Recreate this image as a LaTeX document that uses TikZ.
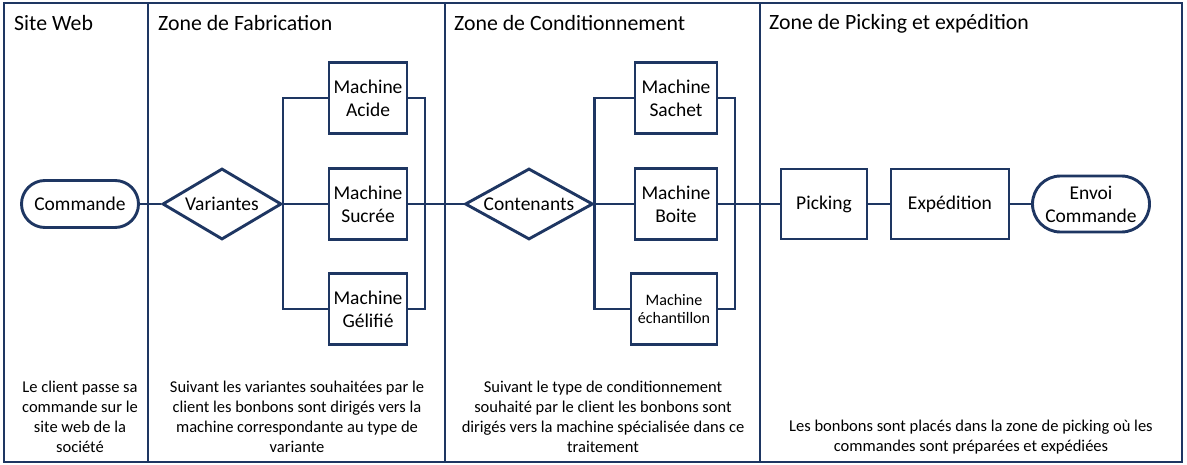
\documentclass[tikz,border=0pt]{standalone}
\usepackage{fontspec}
\setmainfont{Carlito}
\usetikzlibrary{shapes.geometric,shapes.misc}
\definecolor{navy}{RGB}{30,54,98}
\begin{document}
\begin{tikzpicture}[x=1pt,y=-1pt,
  ln/.style={draw=navy,line width=2.9pt},
  lbl/.style={font=\fontsize{19.5}{23}\selectfont,align=center,text=black,inner sep=0pt},
  boxn/.style={ln,rectangle,lbl,minimum height=71pt},
  term/.style={ln,rounded rectangle,lbl,minimum width=117pt},
  dia/.style={ln,diamond,inner sep=0pt,minimum height=71pt},
  title/.style={font=\fontsize{21.8}{26}\selectfont,anchor=west,inner sep=0pt,text=black},
  note/.style={font=\fontsize{16.5}{20}\selectfont,align=center,inner sep=0pt,text=black}]
\useasboundingbox (0,0) rectangle (1187,465);
% frame and lanes
\draw[ln] (4,3) rectangle (1182,462);
\coordinate (d1t) at (148,3); \coordinate (d1b) at (148,462);
\coordinate (d2t) at (445,3); \coordinate (d2b) at (445,462);
\coordinate (d3t) at (760,3); \coordinate (d3b) at (760,462);
\draw[ln] (d1t) -- (d1b);
\draw[ln] (d2t) -- (d2b);
\draw[ln] (d3t) -- (d3b);
% titles
\node[title] (t1) at (14,23) {Site Web};
\node[title] (t2) at (158,23) {Zone de Fabrication};
\node[title] (t3) at (454,23) {Zone de Conditionnement};
\node[title] (t4) at (769,24) {Zone de Picking et expédition};
% nodes
\node[term,minimum height=47pt] (com) at (80,204) {Commande};
\node[dia,minimum width=119pt,label={[lbl]center:Variantes}] (var) at (222,204) {};
\node[boxn,minimum width=78pt] (aci) at (368,98) {Machine\\Acide};
\node[boxn,minimum width=78pt] (suc) at (368,204) {Machine\\Sucrée};
\node[boxn,minimum width=78pt] (gel) at (368,309) {Machine\\Gélifié};
\coordinate (fr) at (425,204);
\node[dia,minimum width=128pt,label={[lbl]center:Contenants}] (cont) at (529,204) {};
\node[boxn,minimum width=82pt] (sac) at (676,98) {Machine\\Sachet};
\node[boxn,minimum width=82pt] (boi) at (676,204) {Machine\\Boite};
\node[boxn,minimum width=86pt,font=\fontsize{16}{18}\selectfont] (ech) at (674,309) {Machine\\échantillon};
\coordinate (cr) at (735,204);
\node[boxn,minimum width=86pt,minimum height=70pt] (pic) at (824,204) {Picking};
\node[boxn,minimum width=118pt,minimum height=70pt] (exp) at (950,204) {Expédition};
\node[term,minimum height=56pt] (env) at (1091,204) {Envoi\\Commande};
% connectors
\draw[ln] (com.east) -- (var.west);
\draw[ln] (var.east) -- (suc.west);
\draw[ln] (aci.west) -| (var.east) |- (gel.west);
\draw[ln] (aci.east) -| (fr) |- (gel.east);
\draw[ln] (suc.east) -- (cont.west);
\draw[ln] (cont.east) -- (boi.west);
\draw[ln] (sac.west) -| (cont.east) |- (ech.west);
\draw[ln] (sac.east) -| (cr) |- (ech.east);
\draw[ln] (boi.east) -- (pic.west);
\draw[ln] (pic.east) -- (exp.west);
\draw[ln] (exp.east) -- (env.west);
% notes
\node[note] (n1) at (80,417) {Le client passe sa\\commande sur le\\site web de la\\société};
\node[note] (n2) at (297,417) {Suivant les variantes souhaitées par le\\client les bonbons sont dirigés vers la\\machine correspondante au type de\\variante};
\node[note] (n3) at (603,417) {Suivant le type de conditionnement\\souhaité par le client les bonbons sont\\dirigés vers la machine spécialisée dans ce\\traitement};
\node[note] (n4) at (971,437) {Les bonbons sont placés dans la zone de picking où les\\commandes sont préparées et expédiées};
\end{tikzpicture}
\end{document}
